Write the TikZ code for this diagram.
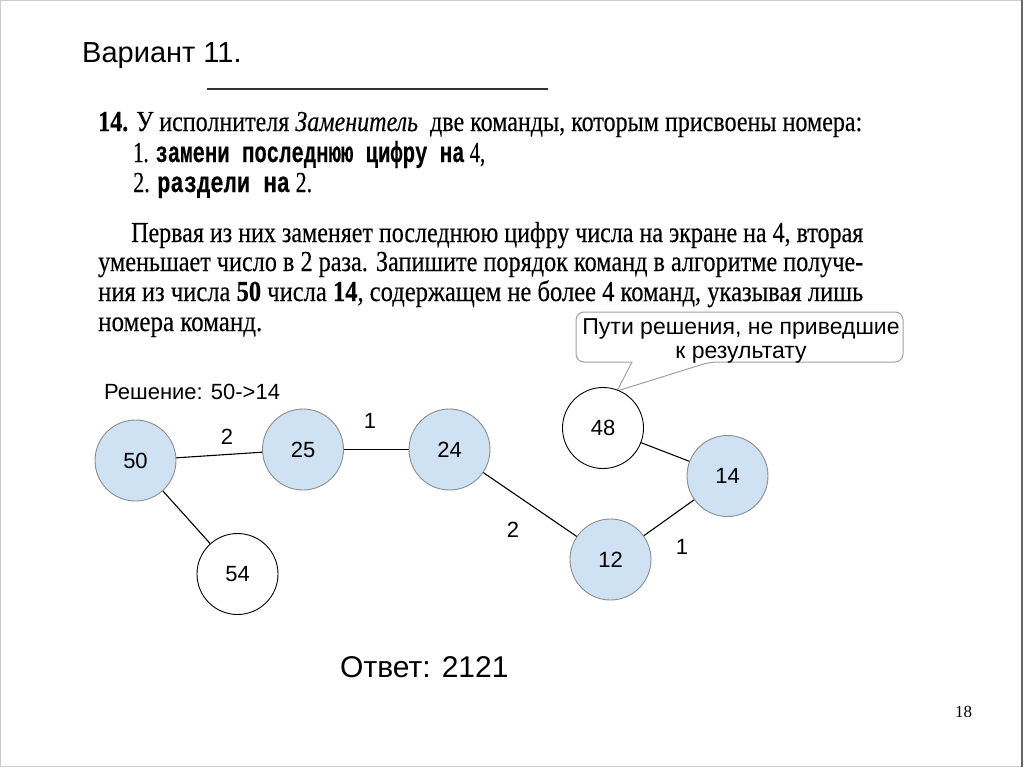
\documentclass[tikz,border=0pt]{standalone}
\usepackage{fontspec}
\usepackage{graphicx}
\setmainfont{Liberation Sans}
\newfontfamily\scanserif[FakeBold=0.3]{Liberation Serif}
\newfontfamily\scanmono[FakeBold=0.3]{Liberation Mono}
\newfontfamily\pagefont{Liberation Serif}
\newcommand{\fitw}[2]{\resizebox{#1}{\height}{#2}}
\definecolor{solblue}{RGB}{207,226,243}
\definecolor{rimgray}{RGB}{140,140,140}
\definecolor{callgray}{RGB}{160,160,160}
\tikzset{
  solnode/.style={circle, draw=rimgray, fill=solblue, minimum size=81pt, inner sep=0pt, line width=0.9pt, font=\fontsize{22}{26}\selectfont},
  deadnode/.style={circle, draw=black, fill=white, minimum size=81pt, inner sep=0pt, line width=0.9pt, font=\fontsize{22}{26}\selectfont},
  link/.style={draw=black, line width=1.1pt},
  elabel/.style={inner sep=0pt, font=\fontsize{22}{26}\selectfont},
  txt/.style={anchor=base west, inner sep=0pt},
  scan/.style={txt, font=\scanserif\fontsize{29}{32}\selectfont},
  callout/.style={draw=callgray, fill=white, line width=1pt}
}
\begin{document}
\begin{tikzpicture}[x=1pt,y=-1pt]
\useasboundingbox (0,0) rectangle (1024,768);
% frame
\draw[black!20, line width=1pt] (0.5,0.5) rectangle (1022,766.5);
\draw[black!60, line width=1.2pt] (1022,0.5) -- (1022,766.5);

% title
\node[txt, font=\fontsize{29}{34}\selectfont] (title) at (82,63) {Вариант 11.};
\draw[black!80, line width=1.8pt] (207,89) -- (548,89);

% scanned task text
\node[scan] (l1) at (98,131) {\fitw{764pt}{{\bfseries 14.} У исполнителя {\itshape Заменитель}\ \ две команды, которым присвоены номера:}};
\node[scan] (l2) at (133,162) {\fitw{352pt}{1. {\scanmono\bfseries\fontsize{29}{32}\selectfont замени последнюю цифру на} 4,}};
\node[scan] (l3) at (133,192) {\fitw{179pt}{2. {\scanmono\bfseries\fontsize{29}{32}\selectfont раздели на} 2.}};
\node[scan] (p1) at (131,242) {\fitw{732pt}{Первая из них заменяет последнюю цифру числа на экране на 4, вторая}};
\node[scan] (p2) at (98,271) {\fitw{765pt}{уменьшает число в 2 раза. Запишите порядок команд в алгоритме получе-}};
\node[scan] (p3) at (98,301) {\fitw{765pt}{ния из числа {\bfseries 50} числа {\bfseries 14}, содержащем не более 4 команд, указывая лишь}};
\node[scan] (p4) at (98,331) {\fitw{164pt}{номера команд.}};

% callout
\draw[callout] (576,337) [rounded corners=8pt] |- (903,312) |- (710,362) [sharp corners] -- (617,391) -- (632,362) [rounded corners=8pt] -| (576,337) -- cycle;
\node[txt, anchor=base, font=\fontsize{23}{27}\selectfont] (c1) at (741,334) {Пути решения, не приведшие};
\node[txt, anchor=base, font=\fontsize{23}{27}\selectfont] (c2) at (741,358) {к результату};

% heading of solution
\node[txt, font=\fontsize{22}{26}\selectfont] (sol) at (104,399) {Решение: 50->14};

% nodes
\node[solnode] (n50) at (135.5,460.5) {50};
\node[solnode] (n25) at (303,449.5) {25};
\node[solnode] (n24) at (449.5,449.5) {24};
\node[deadnode] (n54) at (237.5,574) {54};
\node[deadnode] (n48) at (603,428) {48};
\node[solnode] (n14) at (727.5,476) {14};
\node[solnode] (n12) at (610.5,559.5) {12};

% edges
\draw[link] (n50) -- (n25);
\draw[link] (n25) -- (n24);
\draw[link] (n24) -- (n12);
\draw[link] (n12) -- (n14);
\draw[link] (n48) -- (n14);
\draw[link] (n50) -- (n54);

% edge labels
\node[elabel] (e1) at (227,437) {2};
\node[elabel] (e2) at (370,421) {1};
\node[elabel] (e3) at (513,530) {2};
\node[elabel] (e4) at (682,547) {1};

% answer
\node[txt, font=\fontsize{30}{35}\selectfont] (ans) at (340,677) {Ответ: 2121};

% page number
\node[txt, font=\pagefont\fontsize{17}{20}\selectfont] (pg) at (955,717) {18};
\end{tikzpicture}
\end{document}
